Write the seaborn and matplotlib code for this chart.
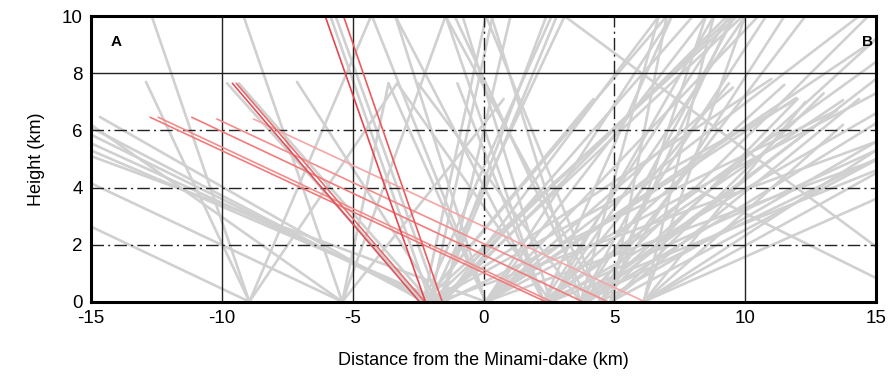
import matplotlib
matplotlib.use("Agg")
import matplotlib.pyplot as plt
from matplotlib import font_manager
import seaborn as sns
import pandas as pd

# ---------------- data ----------------
# gray ray segments: start (x0, y0) -> end (x1, y1), km
gray_x0 = [-8.95, -8.95, -8.95, -8.95, -8.95,
           -5.4, -5.4, -5.4, -5.4, -5.4, -5.4,
           -2.3, -2.2, -2.03, -1.72, -1.53, 0.08, -1.72, -2.3, -2.03, -2.03, -1.72,
           -2.3, -2.03, -1.72, -1.53, -2.3, -2.03, -1.53, -1.72, -2.3, -2.03, -1.53,
           -1.72, -2.3, -1.53, -2.3, -2.03, -1.72,
           0.08, 0.08, 0.08, 0.08, 0.08, 0.08, 0.08, 0.08, 0.08,
           2.3, 2.56, 2.3, 2.56, 2.3, 2.56, 2.3, 2.56, 2.3, 2.56, 2.3, 2.56,
           3.71, 3.98, 3.71, 3.98, 3.71, 3.98, 3.71, 3.98, 3.71,
           4.48, 4.48, 4.86, 4.48, 4.86, 4.48, 4.86,
           6.12, 6.12, 6.12, 6.12, 6.12,
           15.0, 15.0,
           2.3, 2.56, 3.71, 3.98, 4.48, 4.86, 0.08, 0.08, -1.53, -2.03,
           2.3, 3.71, 4.86, 3.71, 4.48, 2.3, 0.08, 6.12, 6.12]
gray_y0 = [0.0] * 81 + [1.93, 0.83] + [0.0] * 19
gray_x1 = [-15.0, -12.68, -12.9, -4.3, -3.3,
           -9.17, -15.0, -15.0, -1.45, 0.77, -3.63,
           -14.66, -15.0, -15.0, -15.0, -15.0, -15.0, -7.13, -9.8, -9.35, -5.85, -5.65,
           9.7, 9.5, 9.9, 9.3, 0.1, 0.35, 1.03, 2.4, 4.2, 12.0, 13.5,
           15.0, 7.0, 6.7, 2.6, 3.1, 2.8,
           -4.26, -3.37, -3.63, 8.5, 9.53, 14.35, 15.0, 11.94, 15.0,
           -1.45, -0.8, -1.0, -3.3, 7.2, 8.8, 9.4, 10.0, 13.74, 15.0, 15.0, 9.38,
           0.3, -1.1, 10.8, 12.3, 14.7, 15.0, 13.47, 15.0, 9.6,
           0.1, 11.5, 14.35, 15.0, 15.0, 9.5, 8.5,
           15.0, 15.0, 13.74, 10.0, 12.3,
           3.1, 8.0,
           15.0, 15.0, 15.0, 15.0, 12.0, 13.0, 10.5, 7.2, 8.0, 11.0,
           11.5, 6.7, 7.0, -2.5, -1.45, -3.37, 15.0, 15.0, 8.8]
gray_y1 = [2.63, 10.0, 7.7, 10.0, 7.65,
           10.0, 4.15, 6.2, 10.0, 7.1, 7.65,
           6.47, 6.1, 5.85, 5.55, 5.3, 5.1, 7.7, 7.65, 7.65, 10.0, 10.0,
           10.0, 10.0, 10.0, 10.0, 10.0, 10.0, 10.0, 10.0, 7.1, 7.1, 6.7,
           5.6, 10.0, 10.0, 10.0, 10.0, 10.0,
           10.0, 10.0, 7.65, 10.0, 7.5, 10.0, 7.3, 7.13, 4.96,
           10.0, 10.0, 7.65, 7.65, 10.0, 10.0, 10.0, 10.0, 7.06, 6.6, 8.4, 7.65,
           10.0, 10.0, 10.0, 10.0, 10.0, 9.2, 6.7, 6.25, 10.0,
           10.0, 10.0, 7.1, 5.6, 4.96, 10.0, 10.0,
           4.5, 3.6, 6.2, 10.0, 7.0,
           10.0, 4.0,
           5.3, 4.6, 5.0, 7.8, 7.1, 7.3, 10.0, 10.0, 10.0, 7.8,
           7.6, 10.0, 10.0, 7.65, 10.0, 10.0, 9.2, 5.3, 10.0]

# red ray segments
red_x0 = [-12.74, -12.43, -11.15, -10.19, -8.79, -9.6, -9.45, -6.05, -5.35]
red_y0 = [6.46, 6.46, 6.46, 6.4, 6.4, 7.65, 7.65, 10.0, 10.0]
red_x1 = [2.37, 2.6, 3.79, 4.75, 6.16, -2.45, -2.25, -2.22, -1.58]
red_y1 = [0.0] * 9
red_colors = ["#f27a7a", "#f48c8c", "#f27a7a", "#f48c8c", "#f6a6a6",
              "#e0505a", "#ec6a6a", "#e8454d", "#ee5a5a"]

x_ticks = [-15, -10, -5, 0, 5, 10, 15]
y_ticks = [0, 2, 4, 6, 8, 10]

# ---------------- style ----------------
sns.set_theme(style="white")
names = {f.name for f in font_manager.fontManager.ttflist}
fam = ["Liberation Sans Narrow", "Liberation Sans", "DejaVu Sans"]
fam = [f for f in fam if f in names] or ["DejaVu Sans"]
plt.rcParams["font.family"] = fam
plt.rcParams["text.color"] = "black"
plt.rcParams["xtick.color"] = "black"
plt.rcParams["ytick.color"] = "black"
plt.rcParams["axes.labelcolor"] = "black"

fig = plt.figure(figsize=(8.88, 3.82), dpi=100)
ax = fig.add_axes([0.1025, 0.2102, 0.884, 0.7474])

def to_df(x0, y0, x1, y1):
    rows = []
    for i, (a, b, c, d) in enumerate(zip(x0, y0, x1, y1)):
        rows.append({"id": i, "x": a, "y": b})
        rows.append({"id": i, "x": c, "y": d})
    return pd.DataFrame(rows)

gdf = to_df(gray_x0, gray_y0, gray_x1, gray_y1)
sns.lineplot(data=gdf, x="x", y="y", units="id", estimator=None, sort=False,
             color="#d0d0d0", linewidth=1.9, ax=ax, zorder=2)

# grid
for v in [-10, -5, 10]:
    ax.axvline(v, color="#222222", lw=1.0, zorder=3)
for v in [0, 5]:
    ax.axvline(v, color="#222222", lw=1.0, ls=(0, (9, 3, 1.5, 3)), zorder=3)
ax.axhline(8, color="#222222", lw=1.0, zorder=3)
for h in [2, 4, 6]:
    ax.axhline(h, color="#222222", lw=1.0, ls=(0, (9, 3, 1.5, 3)), zorder=3)

rdf = to_df(red_x0, red_y0, red_x1, red_y1)
sns.lineplot(data=rdf, x="x", y="y", hue="id", units="id", estimator=None,
             sort=False, palette=red_colors, linewidth=1.2, ax=ax,
             legend=False, zorder=4)

ax.set_xlim(-15, 15)
ax.set_ylim(0, 10)
ax.set_xticks(x_ticks)
ax.set_yticks(y_ticks)
ax.set_xticklabels([str(t) for t in x_ticks], fontsize=13.5)
ax.set_yticklabels([str(t) for t in y_ticks], fontsize=13.5)
ax.tick_params(length=0, pad=6)
ax.set_xlabel("Distance from the Minami-dake (km)", fontsize=13, labelpad=18)
ax.set_ylabel("Height (km)", fontsize=13, labelpad=12)
for s in ax.spines.values():
    s.set_color("black")
    s.set_linewidth(2.2)
    s.set_zorder(6)

ax.text(-14.25, 9.1, "A", fontsize=11, fontweight="bold", ha="left", va="center",
        family="Liberation Sans", zorder=7)
ax.text(14.45, 9.1, "B", fontsize=11, fontweight="bold", ha="left", va="center",
        family="Liberation Sans", zorder=7)

fig.savefig("out.png", dpi=100)
